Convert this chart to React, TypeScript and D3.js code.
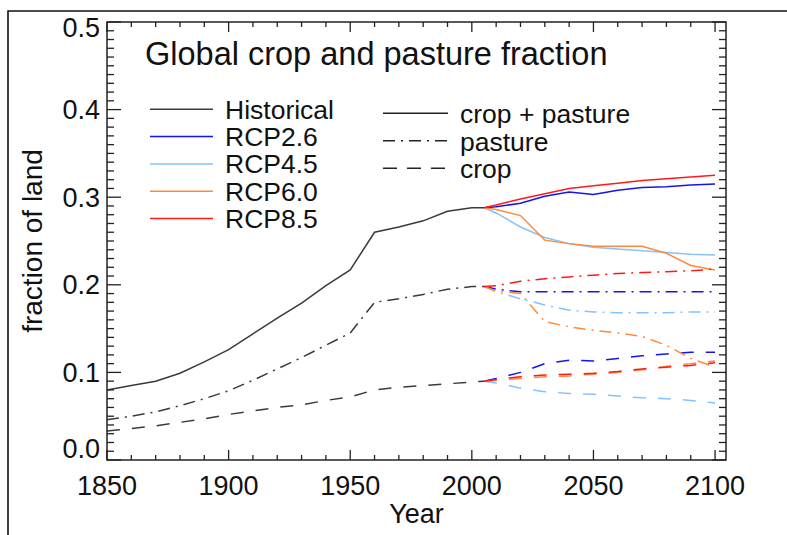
import React from "react";
import * as d3 from "d3";

const histYears = [1850, 1860, 1870, 1880, 1890, 1900, 1910, 1920, 1930, 1940, 1950, 1960, 1970, 1980, 1990, 2000, 2005];
const histTotal = [0.080, 0.085, 0.090, 0.099, 0.112, 0.126, 0.144, 0.162, 0.179, 0.199, 0.217, 0.260, 0.266, 0.273, 0.284, 0.288, 0.288];
const histPasture = [0.046, 0.050, 0.055, 0.062, 0.070, 0.079, 0.091, 0.104, 0.117, 0.131, 0.145, 0.180, 0.184, 0.189, 0.195, 0.198, 0.198];
const histCrop = [0.033, 0.036, 0.039, 0.043, 0.047, 0.052, 0.056, 0.060, 0.063, 0.068, 0.072, 0.080, 0.083, 0.085, 0.087, 0.089, 0.090];

const futYears = [2005, 2010, 2020, 2030, 2040, 2050, 2060, 2070, 2080, 2090, 2100];

const rcp26Total = [0.288, 0.289, 0.293, 0.301, 0.306, 0.303, 0.308, 0.311, 0.312, 0.314, 0.315];
const rcp45Total = [0.288, 0.282, 0.266, 0.254, 0.247, 0.243, 0.241, 0.239, 0.237, 0.235, 0.234];
const rcp60Total = [0.288, 0.286, 0.279, 0.251, 0.247, 0.244, 0.244, 0.244, 0.236, 0.222, 0.217];
const rcp85Total = [0.288, 0.291, 0.298, 0.304, 0.310, 0.313, 0.316, 0.319, 0.321, 0.323, 0.325];

const rcp26Pasture = [0.198, 0.195, 0.192, 0.192, 0.192, 0.192, 0.192, 0.192, 0.192, 0.192, 0.192];
const rcp45Pasture = [0.198, 0.192, 0.184, 0.177, 0.171, 0.169, 0.168, 0.168, 0.168, 0.169, 0.169];
const rcp60Pasture = [0.198, 0.193, 0.190, 0.158, 0.152, 0.148, 0.145, 0.141, 0.131, 0.116, 0.106];
const rcp85Pasture = [0.198, 0.199, 0.204, 0.207, 0.209, 0.211, 0.213, 0.214, 0.215, 0.216, 0.218];

const rcp26Crop = [0.090, 0.093, 0.100, 0.110, 0.114, 0.113, 0.116, 0.119, 0.121, 0.123, 0.123];
const rcp45Crop = [0.090, 0.088, 0.082, 0.078, 0.076, 0.075, 0.073, 0.071, 0.070, 0.068, 0.065];
const rcp60Crop = [0.090, 0.091, 0.093, 0.095, 0.096, 0.098, 0.100, 0.103, 0.107, 0.110, 0.113];
const rcp85Crop = [0.090, 0.092, 0.095, 0.097, 0.098, 0.099, 0.101, 0.104, 0.106, 0.108, 0.111];

const scenarioNames = ["Historical", "RCP2.6", "RCP4.5", "RCP6.0", "RCP8.5"];
const scenarioColors = ["#3a3a3a", "#1414f0", "#84c2ff", "#ff8a3c", "#ff1a1a"];
const typeNames = ["crop + pasture", "pasture", "crop"];

const xTickMajor = [1850, 1900, 1950, 2000, 2050, 2100];
const yTickMajor = [0.0, 0.1, 0.2, 0.3, 0.4, 0.5];

export default function App() {
  const W = 787, H = 535;
  const left = 107, right = 726, top = 22, bottom = 460;
  const x = d3.scaleLinear().domain([1850, 2104.5]).range([left, right]);
  const y = d3.scaleLinear().domain([0, 0.5]).range([bottom, top]);

  const line = d3.line<[number, number]>().x(d => x(d[0])).y(d => y(d[1]));
  const mk = (ys: number[], vs: number[]) => line(ys.map((yr, i) => [yr, vs[i]] as [number, number])) || "";

  const dashes = [null, "12,6,2,6", "13,12"];

  const future = [
    { color: scenarioColors[1], total: rcp26Total, pasture: rcp26Pasture, crop: rcp26Crop },
    { color: scenarioColors[2], total: rcp45Total, pasture: rcp45Pasture, crop: rcp45Crop },
    { color: scenarioColors[3], total: rcp60Total, pasture: rcp60Pasture, crop: rcp60Crop },
    { color: scenarioColors[4], total: rcp85Total, pasture: rcp85Pasture, crop: rcp85Crop },
  ];

  const xMinor = d3.range(1850, 2101, 10);
  const yMinor = d3.range(0, 51).map(i => i / 100);

  const font = "'Liberation Sans', Arial, Helvetica, sans-serif";
  const axisColor = "#222";

  return (
    <svg width={W} height={H} style={{ position: "absolute", left: 0, top: 0 }} fontFamily={font}>
      <rect x={0} y={0} width={W} height={H} fill="#fff" />
      {/* outer frame */}
      <path d={`M8,535 L8,11 L787,11`} fill="none" stroke="#111" strokeWidth={1.6} />

      {/* data lines */}
      <g fill="none" strokeWidth={1.5}>
        <path d={mk(histYears, histTotal)} stroke={scenarioColors[0]} />
        <path d={mk(histYears, histPasture)} stroke={scenarioColors[0]} strokeDasharray={dashes[1]!} />
        <path d={mk(histYears, histCrop)} stroke={scenarioColors[0]} strokeDasharray={dashes[2]!} />
        {future.map((s, i) => (
          <g key={i} stroke={s.color}>
            <path d={mk(futYears, s.total)} />
            <path d={mk(futYears, s.pasture)} strokeDasharray={dashes[1]!} />
            <path d={mk(futYears, s.crop)} strokeDasharray={dashes[2]!} />
          </g>
        ))}
      </g>

      {/* axes box */}
      <rect x={left} y={top} width={right - left} height={bottom - top} fill="none" stroke={axisColor} strokeWidth={1.5} />
      <g stroke={axisColor} strokeWidth={1.3}>
        {xMinor.map(v => {
          const major = v % 50 === 0;
          const len = major ? 10 : 5;
          return (
            <g key={"x" + v}>
              <line x1={x(v)} x2={x(v)} y1={bottom} y2={bottom - len} />
              <line x1={x(v)} x2={x(v)} y1={top} y2={top + len} />
            </g>
          );
        })}
        {yMinor.map((v, i) => {
          const major = i % 10 === 0;
          const len = major ? 14 : 7;
          return (
            <g key={"y" + i}>
              <line x1={left} x2={left + len} y1={y(v)} y2={y(v)} />
              <line x1={right} x2={right - len} y1={y(v)} y2={y(v)} />
            </g>
          );
        })}
      </g>

      {/* tick labels */}
      <g fontSize={27} fill="#111">
        {xTickMajor.map(v => (
          <text key={"xl" + v} x={x(v)} y={495} textAnchor="middle">{v}</text>
        ))}
        {yTickMajor.map(v => {
          const b = Math.min(Math.max(y(v) + 9.5, top + 15), bottom - 2);
          return (
            <text key={"yl" + v} x={100} y={b} textAnchor="end">{d3.format(".1f")(v)}</text>
          );
        })}
        <text x={(left + right) / 2} y={523} textAnchor="middle">Year</text>
        <text transform={`translate(42,${(top + bottom) / 2}) rotate(-90)`} textAnchor="middle" fontSize={28}>fraction of land</text>
      </g>

      {/* title */}
      <text x={145} y={65} fontSize={32.5} fill="#111">Global crop and pasture fraction</text>

      {/* legend left */}
      <g fontSize={26.5} fill="#111">
        {scenarioNames.map((n, i) => {
          const ly = 109.3 + i * 27.3;
          return (
            <g key={n}>
              <line x1={150} x2={213} y1={ly} y2={ly} stroke={scenarioColors[i]} strokeWidth={1.5} />
              <text x={225} y={ly + 9.3}>{n}</text>
            </g>
          );
        })}
      </g>
      {/* legend right */}
      <g fontSize={26.5} fill="#111">
        {typeNames.map((n, i) => {
          const ly = 113.3 + i * 27.5;
          return (
            <g key={n}>
              <line x1={383} x2={448} y1={ly} y2={ly} stroke="#222" strokeWidth={1.5}
                strokeDasharray={i === 0 ? undefined : i === 1 ? "12,6,2,6" : "14,10"} />
              <text x={460} y={ly + 9.7}>{n}</text>
            </g>
          );
        })}
      </g>
    </svg>
  );
}
